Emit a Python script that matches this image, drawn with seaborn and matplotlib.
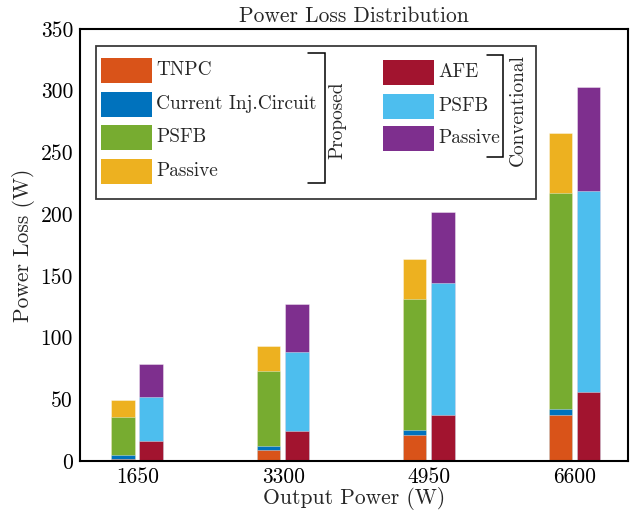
import numpy as np
import matplotlib
matplotlib.use("Agg")
import matplotlib.pyplot as plt
from matplotlib.patches import Rectangle
import seaborn as sns

# data (W)
power = [1650, 3300, 4950, 6600]
prop_tnpc = [2, 9, 21, 37]
prop_cic = [3, 3.5, 4.5, 5]
prop_psfb = [31, 60.5, 106, 175.5]
prop_passive = [13.5, 20, 32, 48]
conv_afe = [16.5, 24.5, 37.5, 55.5]
conv_psfb = [35, 64, 106.5, 163.5]
conv_passive = [27, 38.5, 58, 84]

prop_labels = ["TNPC", "Current Inj.Circuit", "PSFB", "Passive"]
conv_labels = ["AFE", "PSFB", "Passive"]
prop_colors = ["#D95319", "#0072BD", "#77AC30", "#EDB120"]
conv_colors = ["#A2142F", "#4DBEEE", "#7E2F8E"]

sns.set_theme(style="white")
plt.rcParams["font.family"] = ["cmr10", "DejaVu Serif"]
plt.rcParams["mathtext.fontset"] = "cm"
plt.rcParams["axes.formatter.use_mathtext"] = True
plt.rcParams["axes.unicode_minus"] = False
fs = 15.5       # ticks, labels, title
fs_leg = 13.9   # legend box

fig = plt.figure(figsize=(6.37, 5.14), dpi=100)
ax = fig.add_axes([80 / 637, 1 - 461 / 514, 548 / 637, 432 / 514])

x = np.array(power, dtype=float)
bar_w = 265 / 1650  # relative to native spacing
off_p, off_c = -165, 155


def stacked(xpos, layers, colors):
    cum = np.cumsum(np.array(layers, dtype=float), axis=0)
    # draw tallest first so lower segments sit on top
    for vals, col in zip(cum[::-1], colors[::-1]):
        sns.barplot(x=xpos, y=vals, native_scale=True, width=bar_w, color=col,
                    saturation=1, errorbar=None, ax=ax,
                    edgecolor=(1, 1, 1, 0.45), linewidth=0.6)


stacked(x + off_p, [prop_tnpc, prop_cic, prop_psfb, prop_passive], prop_colors)
stacked(x + off_c, [conv_afe, conv_psfb, conv_passive], conv_colors)

ax.set_xlim(1000, 7200)
ax.set_ylim(0, 350)
ax.set_xticks(power)
ax.set_xticklabels([str(p) for p in power], fontsize=fs)
ax.set_yticks(range(0, 351, 50))
ax.set_yticklabels([str(v) for v in range(0, 351, 50)], fontsize=fs)
ax.tick_params(direction="in", length=5, width=1, top=False, right=False,
               pad=5, colors="black")
for s in ax.spines.values():
    s.set_color("black")
    s.set_linewidth(1.5)

ax.set_title("Power Loss Distribution", fontsize=fs, pad=5)
ax.set_xlabel("Output Power (W)", fontsize=fs, labelpad=0)
ax.set_ylabel("Power Loss (W)", fontsize=fs, labelpad=4)


# custom legend with brackets, in pixel-derived axes fractions
def fx(px):
    return (px - 80) / 548


def fy(py):
    return (461 - py) / 432


tr = ax.transAxes
ax.add_patch(Rectangle((fx(96), fy(199)), fx(536) - fx(96), fy(46) - fy(199),
                       transform=tr, facecolor="white", edgecolor="#3a3a3a",
                       linewidth=1.3, zorder=5))

ph = fy(0) - fy(25)
for lab, col, cy in zip(prop_labels, prop_colors, [70.2, 104.2, 137.5, 171.5]):
    ax.add_patch(Rectangle((fx(101), fy(cy) - ph / 2), fx(152) - fx(101), ph,
                           transform=tr, facecolor=col, edgecolor="none", zorder=6))
    ax.text(fx(156), fy(cy), lab, transform=tr, fontsize=fs_leg, va="center",
            ha="left", zorder=6)
for lab, col, cy in zip(conv_labels, conv_colors, [72.3, 106.5, 138.5]):
    ax.add_patch(Rectangle((fx(383), fy(cy) - ph / 2), fx(434) - fx(383), ph,
                           transform=tr, facecolor=col, edgecolor="none", zorder=6))
    ax.text(fx(438), fy(cy), lab, transform=tr, fontsize=fs_leg, va="center",
            ha="left", zorder=6)

# brackets
ax.plot([fx(308), fx(325), fx(325), fx(308)], [fy(53), fy(53), fy(183), fy(183)],
        transform=tr, color="black", lw=1.1, zorder=6, solid_joinstyle="miter")
ax.text(fx(337), fy(120), "Proposed", transform=tr, fontsize=fs_leg, rotation=90,
        ha="center", va="center", zorder=6)
ax.plot([fx(487), fx(503), fx(503), fx(487)], [fy(55), fy(55), fy(157), fy(157)],
        transform=tr, color="black", lw=1.1, zorder=6, solid_joinstyle="miter")
ax.text(fx(518), fy(110), "Conventional", transform=tr, fontsize=fs_leg,
        rotation=90, ha="center", va="center", zorder=6)

fig.savefig("out.png", dpi=100)
